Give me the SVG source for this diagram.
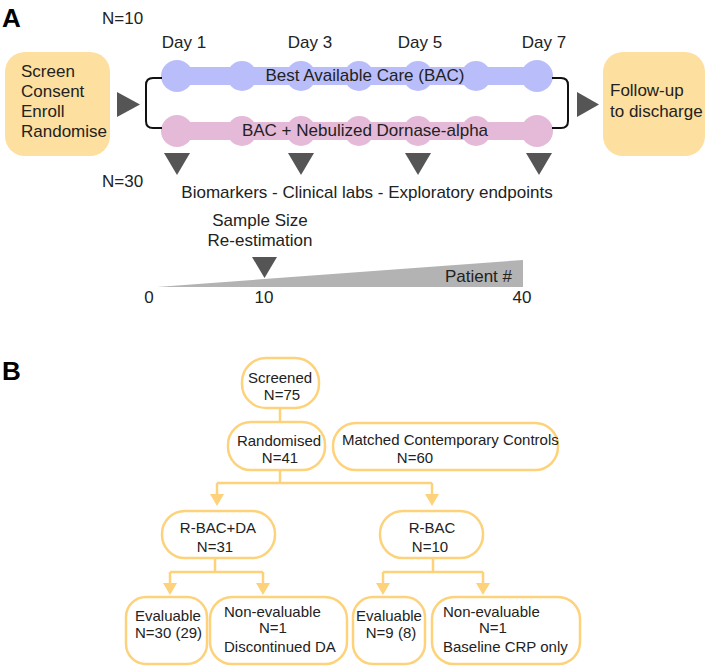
<svg xmlns="http://www.w3.org/2000/svg" width="708" height="666" viewBox="0 0 708 666">
<style>
text{font-family:"Liberation Sans",Arial,sans-serif;fill:#222;}
.a{font-size:17px;}
.b{font-size:15px;}
.lbl{font-size:26px;font-weight:bold;fill:#000;}
.box{fill:#fddf9f;}
.pill{fill:#fff;stroke:#fdd27b;stroke-width:2.5;}
.tri{fill:#555;}
.blue{fill:#b9befb;}
.pink{fill:#e5b9d8;}
.brk{fill:none;stroke:#111;stroke-width:2;}
.con{fill:none;stroke:#fdd27b;stroke-width:2.5;}
.ah{fill:#fdd27b;}
</style>
<text class="lbl" x="2" y="27">A</text>
<text class="a" x="102" y="24">N=10</text>
<text class="a" x="102" y="187">N=30</text>
<text class="a" x="184" y="48" text-anchor="middle">Day 1</text>
<text class="a" x="310" y="48" text-anchor="middle">Day 3</text>
<text class="a" x="420" y="48" text-anchor="middle">Day 5</text>
<text class="a" x="544" y="48" text-anchor="middle">Day 7</text>
<g id="start">
<rect class="box" x="5" y="52" width="105" height="104" rx="20"/>
<text class="a" x="21" y="77">Screen</text>
<text class="a" x="21" y="97">Consent</text>
<text class="a" x="21" y="117">Enroll</text>
<text class="a" x="21" y="137">Randomise</text>
</g>
<g id="bac">
<rect class="blue" x="177" y="67" width="360" height="18"/>
<circle class="blue" cx="177" cy="76" r="16"/><circle class="blue" cx="242" cy="76" r="15"/><circle class="blue" cx="301" cy="76" r="15"/><circle class="blue" cx="359" cy="76" r="15"/><circle class="blue" cx="418" cy="76" r="15"/><circle class="blue" cx="476" cy="76" r="15"/><circle class="blue" cx="537" cy="76" r="16"/>
<text class="a" x="365" y="81" text-anchor="middle">Best Available Care (BAC)</text>
</g>
<g id="bacda">
<rect class="pink" x="177" y="122" width="360" height="18"/>
<circle class="pink" cx="177" cy="131" r="16"/><circle class="pink" cx="242" cy="131" r="15"/><circle class="pink" cx="301" cy="131" r="15"/><circle class="pink" cx="359" cy="131" r="15"/><circle class="pink" cx="418" cy="131" r="15"/><circle class="pink" cx="476" cy="131" r="15"/><circle class="pink" cx="537" cy="131" r="16"/>
<text class="a" x="365" y="136" text-anchor="middle">BAC + Nebulized Dornase-alpha</text>
</g>
<g id="end">
<rect class="box" x="603" y="52" width="102" height="104" rx="20"/>
<text class="a" x="610" y="96">Follow-up</text>
<text class="a" x="610" y="117">to discharge</text>
</g>
<g id="connectors-a">
<polygon class="tri" points="117,92 140,104.5 117,117"/>
<path class="brk" d="M162,78 H153 Q146,78 146,85 V121 Q146,128 153,128 H162"/>
<path class="brk" d="M552,78 H561 Q568,78 568,85 V121 Q568,128 561,128 H552"/>
<polygon class="tri" points="577,92 599,104.5 577,117"/>
<polygon class="tri" points="164,153 190,153 177,175"/>
<polygon class="tri" points="288,153 314,153 301,175"/>
<polygon class="tri" points="405,153 431,153 418,175"/>
<polygon class="tri" points="526,153 552,153 539,175"/>
</g>
<text class="a" x="367" y="198" text-anchor="middle">Biomarkers - Clinical labs - Exploratory endpoints</text>
<text class="a" x="260" y="226" text-anchor="middle">Sample Size</text>
<text class="a" x="260" y="246" text-anchor="middle">Re-estimation</text>
<polygon fill="#b3b3b3" points="157,287 523,260 523,287"/>
<polygon class="tri" points="252,257 277,257 264.5,278"/>
<text class="a" x="512" y="282" text-anchor="end">Patient #</text>
<text class="a" x="149" y="303" text-anchor="middle">0</text>
<text class="a" x="264" y="303" text-anchor="middle">10</text>
<text class="a" x="522" y="303" text-anchor="middle">40</text>

<text class="lbl" x="2" y="380">B</text>
<g id="connectors-b">
<path class="con" d="M280,408 V422"/>
<path class="con" d="M280,470 V483 M217,483 H432 M217,483 V496 M432,483 V496"/>
<polygon class="ah" points="210,494 224,494 217,506"/>
<polygon class="ah" points="425,494 439,494 432,506"/>
<path class="con" d="M215,558 V572 M170,572 H263 M170,572 V585 M263,572 V585"/>
<polygon class="ah" points="163,583 177,583 170,595"/>
<polygon class="ah" points="256,583 270,583 263,595"/>
<path class="con" d="M433,558 V572 M383,572 H483 M383,572 V585 M483,572 V585"/>
<polygon class="ah" points="376,583 390,583 383,595"/>
<polygon class="ah" points="476,583 490,583 483,595"/>
</g>
<g id="screened">
<rect class="pill" x="242" y="358" width="77" height="50" rx="24"/>
<text class="b" x="280" y="383" text-anchor="middle">Screened</text>
<text class="b" x="282" y="400" text-anchor="middle">N=75</text>
</g>
<g id="randomised">
<rect class="pill" x="228" y="422" width="97" height="48" rx="23"/>
<text class="b" x="279" y="446" text-anchor="middle">Randomised</text>
<text class="b" x="280" y="463" text-anchor="middle">N=41</text>
</g>
<g id="controls">
<rect class="pill" x="333" y="423" width="225" height="47" rx="23"/>
<text class="b" x="342" y="445">Matched Contemporary Controls</text>
<text class="b" x="415" y="463" text-anchor="middle">N=60</text>
</g>
<g id="rbacda">
<rect class="pill" x="162" y="511" width="113" height="47" rx="23"/>
<text class="b" x="218" y="533" text-anchor="middle">R-BAC+DA</text>
<text class="b" x="215" y="552" text-anchor="middle">N=31</text>
</g>
<g id="rbac">
<rect class="pill" x="380" y="511" width="103" height="47" rx="23"/>
<text class="b" x="432" y="533" text-anchor="middle">R-BAC</text>
<text class="b" x="430" y="552" text-anchor="middle">N=10</text>
</g>
<g id="eval1">
<rect class="pill" x="126" y="597" width="81" height="67" rx="20"/>
<text class="b" x="135" y="621">Evaluable</text>
<text class="b" x="135" y="638">N=30 (29)</text>
</g>
<g id="noneval1">
<rect class="pill" x="210" y="597" width="137" height="67" rx="22"/>
<text class="b" x="224" y="617">Non-evaluable</text>
<text class="b" x="273" y="633" text-anchor="middle">N=1</text>
<text class="b" x="224" y="652">Discontinued DA</text>
</g>
<g id="eval2">
<rect class="pill" x="353" y="597" width="72" height="67" rx="20"/>
<text class="b" x="389" y="621" text-anchor="middle">Evaluable</text>
<text class="b" x="391" y="638" text-anchor="middle">N=9 (8)</text>
</g>
<g id="noneval2">
<rect class="pill" x="432" y="597" width="148" height="67" rx="22"/>
<text class="b" x="443" y="617">Non-evaluable</text>
<text class="b" x="493" y="633" text-anchor="middle">N=1</text>
<text class="b" x="443" y="652">Baseline CRP only</text>
</g>
</svg>
